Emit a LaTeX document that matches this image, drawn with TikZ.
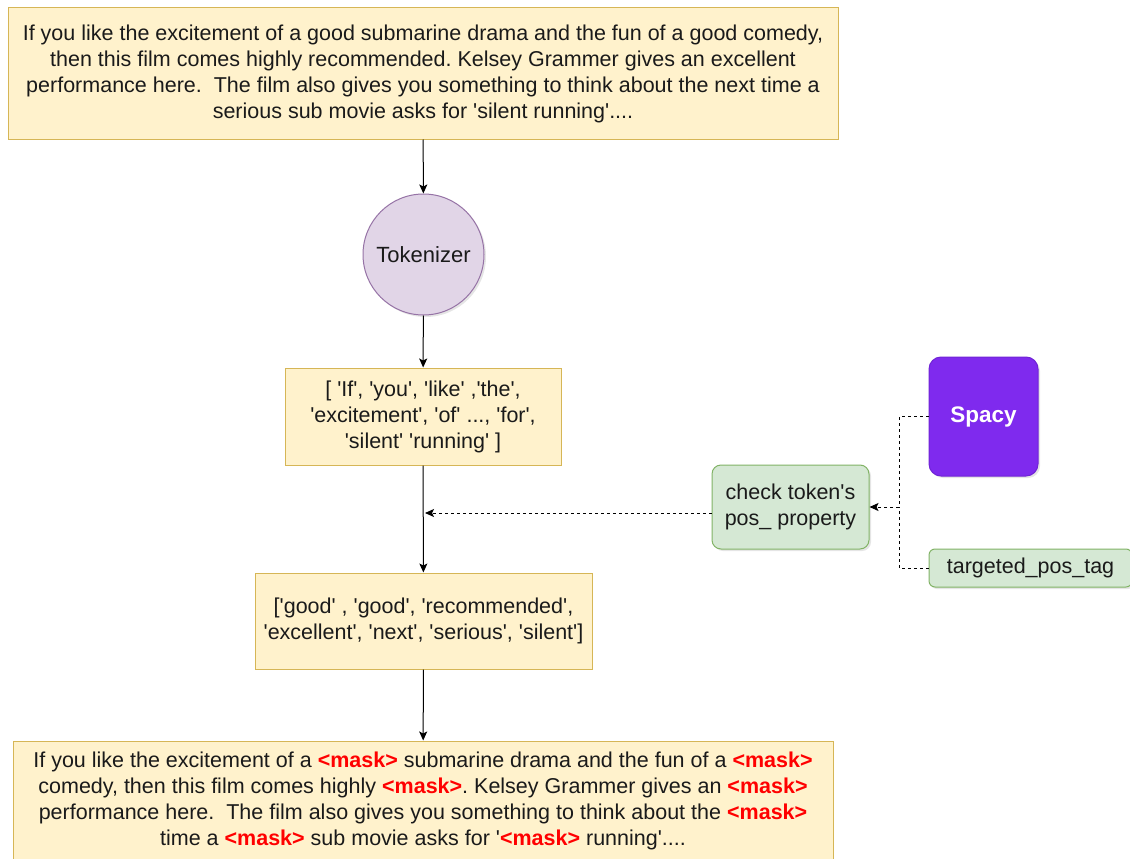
\documentclass[tikz,border=0pt]{standalone}
\usepackage{fontspec}
\setmainfont{Liberation Sans}[Ligatures=TeXOff]
\usetikzlibrary{positioning}
\usetikzlibrary{arrows.meta}
\usetikzlibrary{shadows}
\frenchspacing

\definecolor{noteFill}{RGB}{255,242,204}
\definecolor{noteDraw}{RGB}{214,182,86}
\definecolor{tokFill}{RGB}{225,213,231}
\definecolor{tokDraw}{RGB}{150,115,166}
\definecolor{posFill}{RGB}{213,232,212}
\definecolor{posDraw}{RGB}{130,179,102}
\definecolor{spacyFill}{RGB}{127,42,238}
\definecolor{spacyDraw}{RGB}{112,36,214}
\definecolor{maskColor}{RGB}{255,0,0}
\definecolor{textColor}{RGB}{26,26,26}

\newcommand{\masktok}{\textcolor{maskColor}{\textbf{<mask>}}}

\tikzset{
  every node/.style={font=\fontsize{21.5}{26}\selectfont,text=textColor,align=center,inner sep=0pt},
  notebox/.style={draw=noteDraw,fill=noteFill,line width=1pt},
  tokcircle/.style={circle,draw=tokDraw,fill=tokFill,line width=1pt,font=\fontsize{22}{26}\selectfont,
    drop shadow={opacity=0.2,shadow xshift=2pt,shadow yshift=-2pt}},
  posbox/.style={rounded corners=9pt,draw=posDraw,fill=posFill,line width=1pt,
    drop shadow={opacity=0.2,shadow xshift=2pt,shadow yshift=-2pt}},
  spacybox/.style={rounded corners=12pt,draw=spacyDraw,fill=spacyFill,line width=1pt,
    text=white,font=\fontsize{22.5}{26}\selectfont\bfseries,
    drop shadow={opacity=0.2,shadow xshift=2pt,shadow yshift=-2pt}},
  flow/.style={draw=black,line width=1pt,-{Stealth[length=9pt,width=8pt,inset=2pt]}},
  dashflow/.style={flow,dash pattern=on 3pt off 3pt},
  dashlink/.style={draw=black,line width=1pt,dash pattern=on 3pt off 3pt}
}

\begin{document}
\begin{tikzpicture}[x=1pt,y=-1pt]
\useasboundingbox[fill=white] (0,0) rectangle (1130,859);

% main column
\node[notebox,minimum width=830pt,minimum height=131pt] (review) at (423,73.5)
  {If you like the excitement of a good submarine drama and the fun of a good comedy,\\
   then this film comes highly recommended. Kelsey Grammer gives an excellent\\
   performance here.\ \ The film also gives you something to think about the next time a\\
   serious sub movie asks for 'silent running'....};
\node[tokcircle,minimum size=121pt] (tokenizer) at (423.5,254.5) {Tokenizer};
\node[notebox,minimum width=276pt,minimum height=97pt] (tokens) at (423,416.5)
  {[ 'If', 'you', 'like' ,'the',\\ 'excitement', 'of' ..., 'for',\\ 'silent' 'running' ]};
\node[notebox,minimum width=337pt,minimum height=96pt] (keywords) at (423.5,621)
  {['good' , 'good', 'recommended',\\ 'excellent', 'next', 'serious', 'silent']};
\node[notebox,minimum width=820pt,minimum height=119pt] (masked) at (423,800.5)
  {If you like the excitement of a \masktok{} submarine drama and the fun of a \masktok\\
   comedy, then this film comes highly \masktok. Kelsey Grammer gives an \masktok\\
   performance here.\ \ The film also gives you something to think about the \masktok\\
   time a \masktok{} sub movie asks for '\masktok{} running'....};

% side branch
\node[spacybox,minimum width=109pt,minimum height=119pt] (spacy) at (983.5,416.5) {Spacy};
\node[posbox,minimum width=157pt,minimum height=84pt] (check) at (790.5,507)
  {check token's\\ pos\_ property};
\node[posbox,rounded corners=6pt,minimum width=203pt,minimum height=38pt] (tag) at (1030.5,568)
  {targeted\_pos\_tag};

\coordinate (join) at (899,507);
\coordinate (hit) at (425,513);

\draw[flow] (review) -- (tokenizer);
\draw[flow] (tokenizer) -- (tokens);
\draw[flow] (tokens) -- (keywords);
\draw[flow] (keywords) -- (masked);

\draw[dashflow] ([yshift=-6pt]check.west) -- (hit);
\draw[dashlink] (spacy.west) -| (join);
\draw[dashlink] (tag.west) -| (join);
\draw[dashflow] (join) -- (check.east);
\end{tikzpicture}
\end{document}
